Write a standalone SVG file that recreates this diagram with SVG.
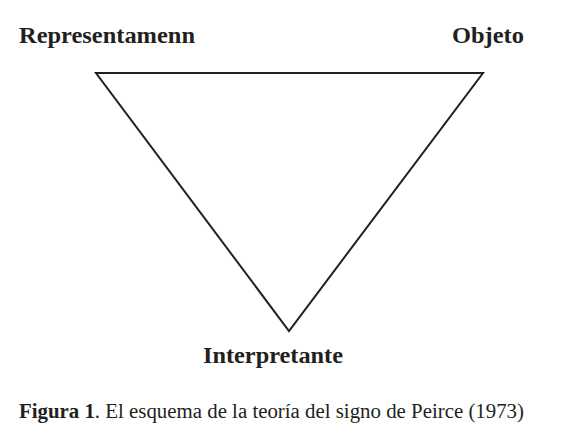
<svg xmlns="http://www.w3.org/2000/svg" width="588" height="442" viewBox="0 0 588 442">
<style>
.lbl{font-family:"Liberation Serif","Times New Roman",serif;font-weight:bold;font-size:24px;fill:#231f20}
.cap{font-family:"Liberation Serif","Times New Roman",serif;font-size:20px;fill:#231f20}
.edge{fill:none;stroke:#231f20;stroke-width:2;stroke-linejoin:miter}
</style>
<rect width="588" height="442" fill="#fff"/>
<g id="connectors">
<path class="edge" d="M96,73 L483,73 L289,331 Z"/>
</g>
<g id="representamen"><text class="lbl" x="19" y="43" textLength="176" lengthAdjust="spacingAndGlyphs">Representamenn</text></g>
<g id="objeto"><text class="lbl" x="452" y="43" textLength="72" lengthAdjust="spacingAndGlyphs">Objeto</text></g>
<g id="interpretante"><text class="lbl" x="203" y="363" textLength="140" lengthAdjust="spacingAndGlyphs">Interpretante</text></g>
<g id="caption"><text class="cap" x="19" y="418" textLength="505" lengthAdjust="spacingAndGlyphs"><tspan font-weight="bold">Figura 1</tspan>. El esquema de la teoría del signo de Peirce (1973)</text></g>
</svg>
